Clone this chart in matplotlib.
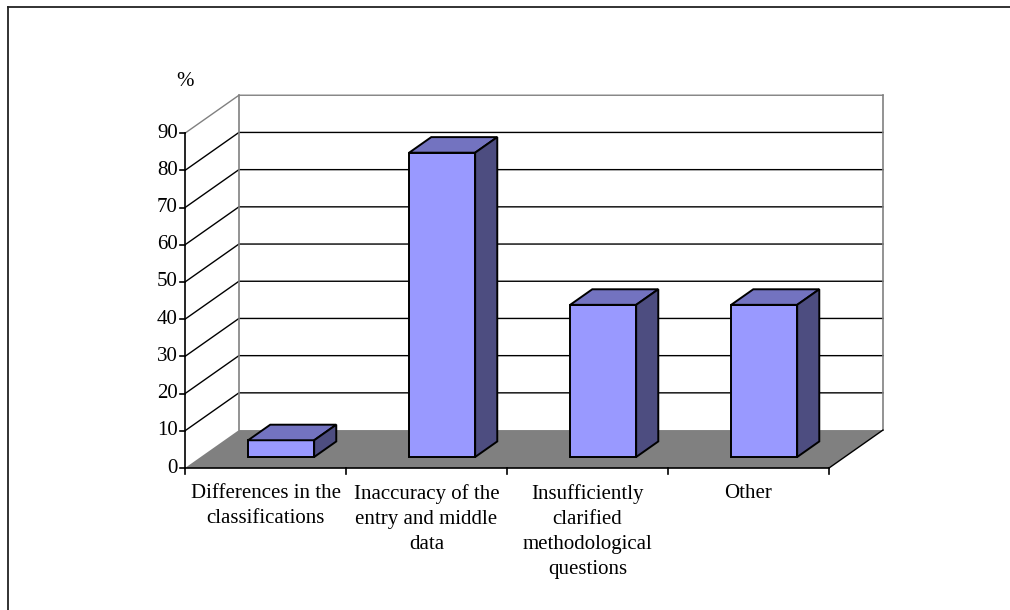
import matplotlib
matplotlib.use("Agg")
import matplotlib.pyplot as plt
from matplotlib.patches import Polygon
from matplotlib.lines import Line2D

# Survey results: share of answers per cause (%)
categories = [
    "Differences in the\nclassifications",
    "Inaccuracy of the\nentry and middle\ndata",
    "Insufficiently\nclarified\nmethodological\nquestions",
    "Other",
]
values = [4.5, 81.8, 40.9, 40.9]
y_ticks = [0, 10, 20, 30, 40, 50, 60, 70, 80, 90]
y_unit_label = "%"

plt.rcParams["font.family"] = ["Liberation Serif", "DejaVu Serif"]

# Oblique projection of the depth axis (category units, value units)
DX, DY = 0.335, 10.2
Y_MAX = 90
N = len(categories)
BAR_W = 0.41
D0, D1 = 0.29, 0.70          # bar front / back as fraction of depth

FRONT = "#9999ff"
TOP = "#7373c0"
SIDE = "#4d4d80"
FLOOR = "#808080"
WALL_EDGE = "#808080"
FS = 15

fig = plt.figure(figsize=(10.1, 6.1), dpi=100)
ax = fig.add_axes([0, 0, 1, 1])
ax.set_xlim(-1.149, 5.124)
ax.set_ylim(-38.17, 125.8)
ax.axis("off")


def depth(x, y, f):
    return x + f * DX, y + f * DY


# back wall and side wall
ax.add_patch(Polygon([(DX, DY), (N + DX, DY), (N + DX, Y_MAX + DY), (DX, Y_MAX + DY)],
                     closed=True, facecolor="white", edgecolor="none", zorder=1))
# floor
ax.add_patch(Polygon([(0, 0), (N, 0), (N + DX, DY), (DX, DY)],
                     closed=True, facecolor=FLOOR, edgecolor="none", zorder=2))

# gridlines on side wall and back wall
for v in y_ticks[1:]:
    col = WALL_EDGE if v == Y_MAX else "black"
    ax.add_line(Line2D([0, DX, N + DX], [v, v + DY, v + DY], color=col, lw=1.0, zorder=3))
# wall edges
ax.add_line(Line2D([DX, DX], [DY, Y_MAX + DY], color=WALL_EDGE, lw=1.2, zorder=3))
ax.add_line(Line2D([N + DX, N + DX], [DY, Y_MAX + DY], color=WALL_EDGE, lw=1.2, zorder=3))
# right edge of the floor
ax.add_line(Line2D([N, N + DX], [0, DY], color="black", lw=1.0, zorder=3))

# value axis
ax.add_line(Line2D([0, 0], [0, Y_MAX], color="black", lw=1.2, zorder=6))
for v in y_ticks:
    ax.add_line(Line2D([-0.03, 0], [v, v], color="black", lw=1.2, zorder=6))
    ax.text(-0.045, v, str(v), ha="right", va="center", fontsize=FS, zorder=6)
ax.text(0, 103.8, y_unit_label, ha="center", va="center", fontsize=FS)

# category axis
ax.add_line(Line2D([0, N], [0, 0], color="black", lw=1.2, zorder=6))
for i in range(N + 1):
    ax.add_line(Line2D([i, i], [0, -1.7], color="black", lw=1.2, zorder=6))
for i, lab in enumerate(categories):
    ax.text(i + 0.5, -4.2, lab, ha="center", va="top", fontsize=FS,
            linespacing=1.45, zorder=6)

# 3-D columns
for i, v in enumerate(values):
    xl = i + 0.5 - BAR_W / 2
    xr = i + 0.5 + BAR_W / 2
    fl = depth(xl, 0, D0)
    fr = depth(xr, 0, D0)
    ftl = depth(xl, v, D0)
    ftr = depth(xr, v, D0)
    btl = depth(xl, v, D1)
    btr = depth(xr, v, D1)
    bbr = depth(xr, 0, D1)
    kw = dict(closed=True, edgecolor="black", lw=1.4, joinstyle="miter", zorder=5)
    ax.add_patch(Polygon([fl, fr, ftr, ftl], facecolor=FRONT, **kw))
    ax.add_patch(Polygon([ftl, ftr, btr, btl], facecolor=TOP, **kw))
    ax.add_patch(Polygon([fr, bbr, btr, ftr], facecolor=SIDE, **kw))

# chart area frame (left and top edges)
fig.add_artist(Line2D([8 / 1010, 8 / 1010], [0, 1 - 7 / 610], color="#222222",
                      lw=1.3, transform=fig.transFigure))
fig.add_artist(Line2D([8 / 1010, 1], [1 - 7 / 610, 1 - 7 / 610], color="#222222",
                      lw=1.3, transform=fig.transFigure))

fig.savefig("out.png", dpi=100)
